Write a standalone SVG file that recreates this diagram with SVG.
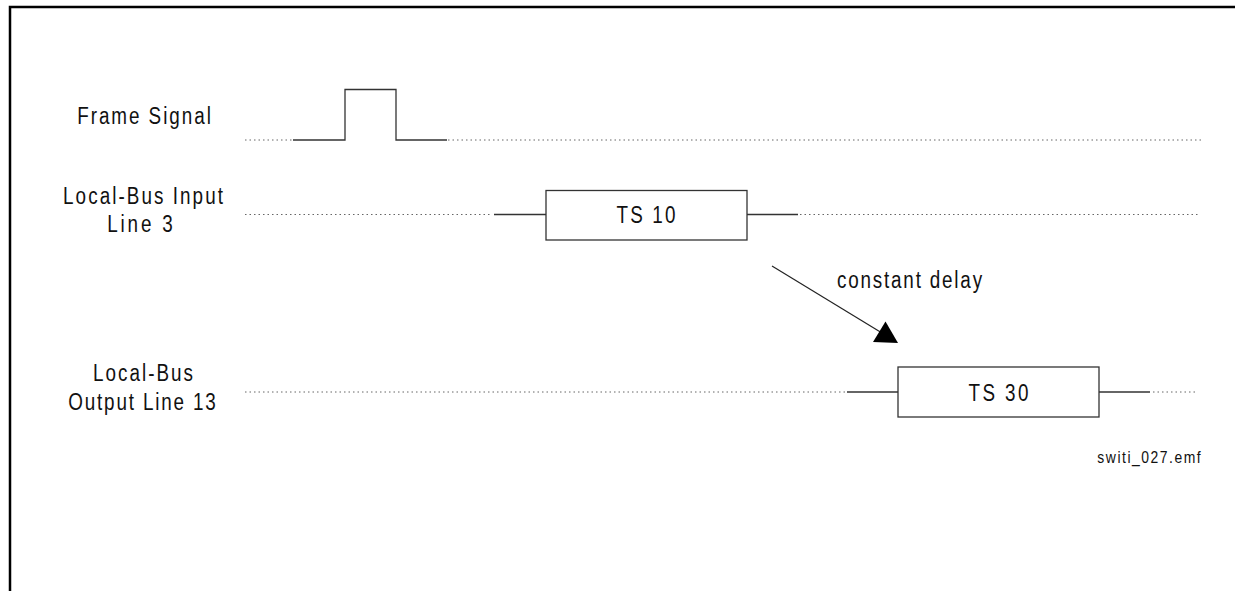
<svg xmlns="http://www.w3.org/2000/svg" width="1235" height="591" viewBox="0 0 1235 591">
<style>
.lbl{font-family:"Liberation Sans",Arial,sans-serif;font-size:23px;fill:#111;text-anchor:middle}
.sm{font-family:"Liberation Sans",Arial,sans-serif;font-size:17px;fill:#111;text-anchor:middle}
.dot{stroke:#666;stroke-width:1;stroke-dasharray:1.5 3;fill:none}
.sig{stroke:#333;stroke-width:1.3;fill:none}
.box{stroke:#333;stroke-width:1.3;fill:#fff}
</style>
<rect width="1235" height="591" fill="#fff"/>
<g id="border" stroke="#000" stroke-width="2.5" fill="none">
<path d="M10 591 V7 H1235"/>
</g>
<g id="frame-signal">
<text class="lbl" transform="matrix(0.82 0 0 1 144 124)" textLength="163" lengthAdjust="spacing">Frame Signal</text>
<line class="dot" x1="245" y1="140" x2="293" y2="140"/>
<path class="sig" d="M293 140 H345 V89.5 H396 V140 H447"/>
<line class="dot" x1="448" y1="140" x2="1202" y2="140"/>
</g>
<g id="input-line">
<text class="lbl" transform="matrix(0.82 0 0 1 143 204)" textLength="195" lengthAdjust="spacing">Local-Bus Input</text>
<text class="lbl" transform="matrix(0.82 0 0 1 140 232)" textLength="80" lengthAdjust="spacing">Line 3</text>
<line class="dot" x1="245" y1="214.5" x2="492" y2="214.5"/>
<line class="sig" x1="494" y1="214.5" x2="546" y2="214.5"/>
<line class="sig" x1="747" y1="214.5" x2="798" y2="214.5"/>
<line class="dot" x1="800" y1="214.5" x2="1198" y2="214.5"/>
</g>
<g id="ts10">
<rect class="box" x="546" y="190.5" width="201" height="49.5"/>
<text class="lbl" transform="matrix(0.82 0 0 1 646 223)" textLength="72" lengthAdjust="spacing">TS 10</text>
</g>
<g id="output-line">
<text class="lbl" transform="matrix(0.82 0 0 1 143 381)" textLength="122" lengthAdjust="spacing">Local-Bus</text>
<text class="lbl" transform="matrix(0.82 0 0 1 142 410)" textLength="180" lengthAdjust="spacing">Output Line 13</text>
<line class="dot" x1="245" y1="392" x2="845" y2="392"/>
<line class="sig" x1="847" y1="392" x2="898" y2="392"/>
<line class="sig" x1="1099" y1="392" x2="1150" y2="392"/>
<line class="dot" x1="1153" y1="392" x2="1198" y2="392"/>
</g>
<g id="ts30">
<rect class="box" x="898" y="367" width="201" height="50"/>
<text class="lbl" transform="matrix(0.82 0 0 1 998.5 400.5)" textLength="73" lengthAdjust="spacing">TS 30</text>
</g>
<g id="connectors">
<line x1="772" y1="266" x2="882" y2="333" stroke="#222" stroke-width="1.2"/>
<polygon points="898,343 873,342 885.5,321.5" fill="#000"/>
</g>
<g id="delay-label">
<text class="lbl" transform="matrix(0.82 0 0 1 909.5 288)" textLength="177" lengthAdjust="spacing">constant delay</text>
</g>
<g id="filename">
<text class="sm" transform="matrix(0.82 0 0 1 1149 463)" textLength="126" lengthAdjust="spacing">switi_027.emf</text>
</g>
</svg>
